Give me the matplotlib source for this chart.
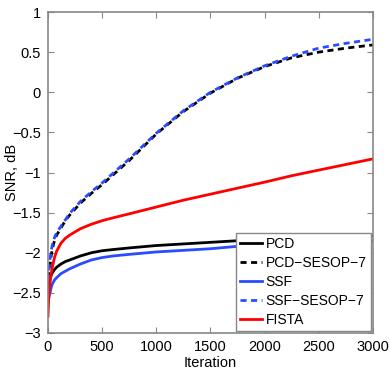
import matplotlib
matplotlib.use("Agg")
import matplotlib.pyplot as plt

plt.rcParams['font.family'] = ['Liberation Sans', 'DejaVu Sans']

# Data
iters = [0, 5, 10, 20, 30, 40, 60, 80, 120, 160, 200, 300, 400, 500, 600, 750,
         1000, 1250, 1500, 1750, 2000, 2250, 2500, 2750, 3000]
pcd = [-2.45, -2.42, -2.38, -2.31, -2.28, -2.25, -2.21, -2.18, -2.14, -2.11, -2.09, -2.04, -2.00, -1.975, -1.96, -1.94,
       -1.91, -1.89, -1.87, -1.85, -1.835, -1.82, -1.81, -1.80, -1.79]
pcd_sesop = [-2.45, -2.38, -2.30, -2.15, -2.03, -1.95, -1.85, -1.78, -1.69, -1.60, -1.53, -1.38, -1.26, -1.15, -1.03, -0.85,
             -0.52, -0.24, -0.01, 0.175, 0.32, 0.43, 0.50, 0.55, 0.59]
ssf = [-2.60, -2.57, -2.54, -2.49, -2.43, -2.39, -2.34, -2.31, -2.26, -2.23, -2.20, -2.14, -2.09, -2.06, -2.04, -2.02,
       -1.99, -1.97, -1.95, -1.92, -1.90, -1.885, -1.87, -1.86, -1.85]
ssf_sesop = [-2.35, -2.28, -2.20, -2.06, -1.97, -1.90, -1.81, -1.75, -1.67, -1.59, -1.51, -1.36, -1.24, -1.13, -1.01, -0.83,
             -0.51, -0.23, 0.00, 0.18, 0.33, 0.45, 0.55, 0.61, 0.66]
fista = [-2.79, -2.62, -2.50, -2.36, -2.26, -2.18, -2.06, -1.98, -1.88, -1.82, -1.78, -1.70, -1.645, -1.60, -1.565, -1.515,
         -1.43, -1.345, -1.27, -1.195, -1.12, -1.04, -0.97, -0.90, -0.83]

labels = ["PCD", "PCD\u2212SESOP\u22127", "SSF", "SSF\u2212SESOP\u22127", "FISTA"]
xticks = [0, 500, 1000, 1500, 2000, 2500, 3000]
yticks = [-3, -2.5, -2, -1.5, -1, -0.5, 0, 0.5, 1]
ytick_labels = ["\u22123", "\u22122.5", "\u22122", "\u22121.5", "\u22121", "\u22120.5", "0", "0.5", "1"]

fig = plt.figure(figsize=(3.9, 3.74), dpi=100)
ax = fig.add_axes([48/390, 1-333/374, (373-48)/390, (333-12)/374])

blue = "#2b4bff"
lw = 2.0
dash = (0, (2.2, 1.6))
ax.plot(iters, pcd, color="black", lw=lw, label=labels[0])
ax.plot(iters, pcd_sesop, color="black", lw=lw, linestyle=dash, label=labels[1])
ax.plot(iters, ssf, color=blue, lw=lw, label=labels[2])
ax.plot(iters, ssf_sesop, color=blue, lw=lw, linestyle=dash, label=labels[3])
ax.plot(iters, fista, color="red", lw=lw, label=labels[4])

ax.set_xlim(0, 3000)
ax.set_ylim(-3, 1)
ax.set_xticks(xticks)
ax.set_xticklabels([str(v) for v in xticks])
ax.set_yticks(yticks)
ax.set_yticklabels(ytick_labels)

gray = "#888888"
for s in ax.spines.values():
    s.set_color(gray)
    s.set_linewidth(1.2)
ax.tick_params(direction="in", length=4, width=0.8, color=gray, top=True, right=True,
               labelsize=10.5, labelcolor="black", pad=5)

ax.set_xlabel("Iteration", fontsize=10.5)
ax.set_ylabel("SNR, dB", fontsize=10.5)
ax.xaxis.set_label_coords(0.5, -0.072)
ax.yaxis.set_label_coords(-0.088, 0.5)

leg = ax.legend(loc="lower right", fontsize=10, frameon=True, fancybox=False,
                borderaxespad=0.15, handlelength=1.6, handletextpad=0.25,
                labelspacing=0.35, borderpad=0.3)
leg.get_frame().set_edgecolor(gray)
leg.get_frame().set_linewidth(1.0)
leg.get_frame().set_alpha(1)

fig.savefig("out.png", dpi=100)
